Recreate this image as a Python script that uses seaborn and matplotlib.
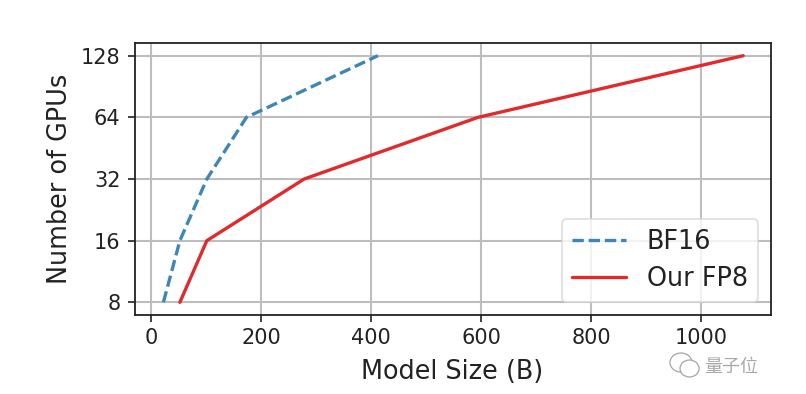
import pandas as pd
import seaborn as sns
import matplotlib.pyplot as plt
from matplotlib.patches import Ellipse

# Daten
gpus = [8, 16, 32, 64, 128]
bf16_size = [22, 52, 101, 173, 412]
fp8_size = [52, 101, 278, 594, 1076]
x_ticks = [0, 200, 400, 600, 800, 1000]

sns.set_style("white")
plt.rcParams['font.family'] = ['DejaVu Sans', 'Noto Sans CJK SC']

df = pd.concat([
    pd.DataFrame({"size": bf16_size, "gpus": gpus, "name": "BF16"}),
    pd.DataFrame({"size": fp8_size, "gpus": gpus, "name": "Our FP8"}),
])

fig = plt.figure(figsize=(8.06, 3.94), dpi=100)
ax = fig.add_axes([134.5 / 806, 1 - 314.5 / 394, (770.7 - 134.5) / 806, (314.5 - 43) / 394])

sns.lineplot(data=df, x="size", y="gpus", hue="name", style="name",
             palette={"BF16": "#3d87b8", "Our FP8": "#e02a2c"},
             dashes={"BF16": (3.4, 1.46), "Our FP8": ""},
             linewidth=2.4, sort=False, ax=ax)

ax.set_yscale("log", base=2)
ax.set_yticks(gpus)
ax.set_yticklabels([str(g) for g in gpus])
ax.minorticks_off()
ax.set_xticks(x_ticks)
ax.set_xlim(-30.5, 1126)
ax.set_ylim(2 ** 2.802, 2 ** 7.206)

ax.grid(True, color="#bdbdbd", linewidth=1.5)
ax.set_axisbelow(True)
for s in ax.spines.values():
    s.set_color("#222222")
    s.set_linewidth(1.3)
ax.tick_params(bottom=True, left=True, length=5, width=1.2, color="#222222",
               labelsize=15, labelcolor="#222222", pad=5)
ax.set_xlabel("Model Size (B)", fontsize=18.4, color="#222222", labelpad=7.5)
ax.set_ylabel("Number of GPUs", fontsize=18.4, color="#222222", labelpad=6)

leg = ax.legend(loc="lower right", fontsize=18.4, frameon=True, framealpha=0.8,
                edgecolor="#d5d5d5", handlelength=2.1, labelspacing=0.4)
leg.get_frame().set_linewidth(1.2)
for t in leg.get_texts():
    t.set_color("#222222")

# Wasserzeichen
for cx, cy, w, h in [(0.8449, 0.0799, 0.0273, 0.0482), (0.8555, 0.0647, 0.0236, 0.0431)]:
    fig.add_artist(Ellipse((cx, cy), w, h, transform=fig.transFigure,
                           facecolor="white", edgecolor="#a5a5a5", linewidth=0.9))
fig.text(0.9405, 0.0690, "量子位", fontsize=13, color="#a8a8a8",
         ha="right", va="center", family=['Noto Sans CJK SC', 'DejaVu Sans'])

fig.savefig("out.png", dpi=100)
